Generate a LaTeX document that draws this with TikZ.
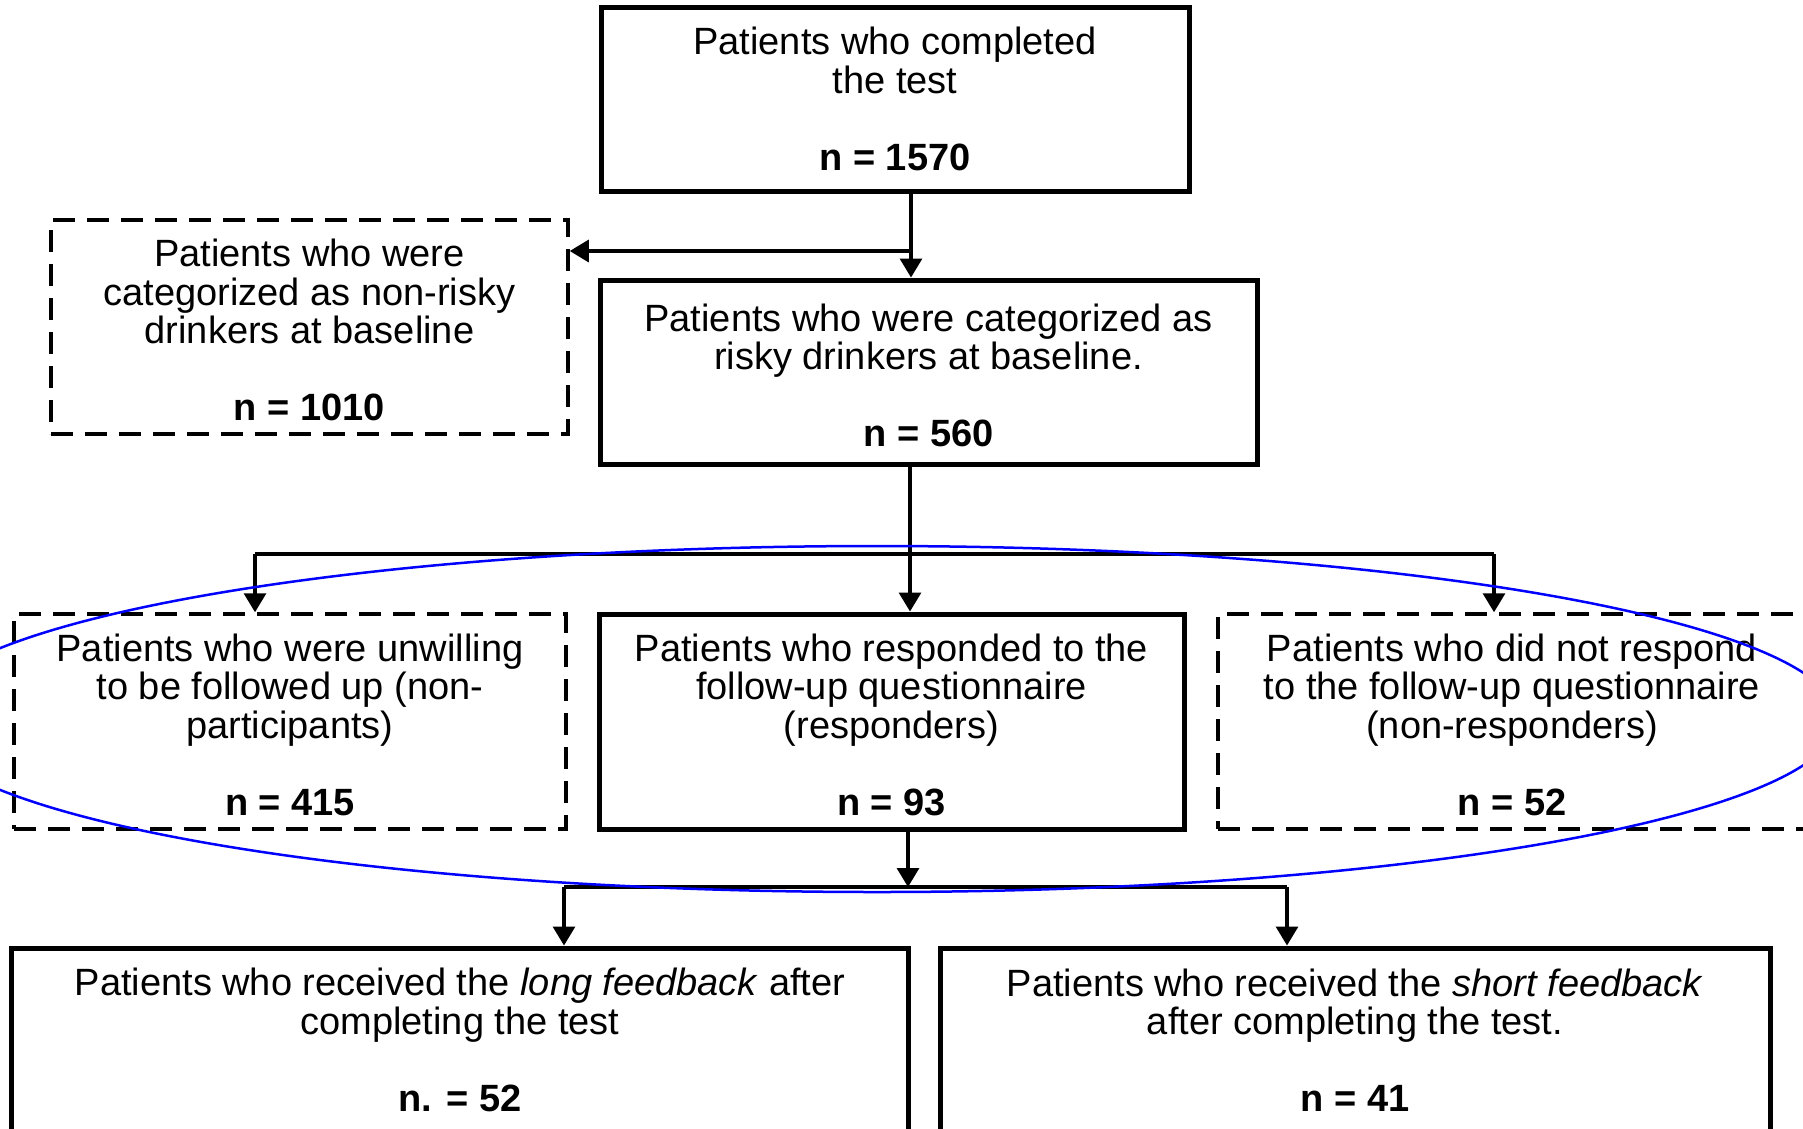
\documentclass[tikz,border=0pt]{standalone}
\usepackage{fontspec}
\setmainfont{Liberation Sans}
\usetikzlibrary{arrows.meta}
\newcommand{\topstrutx}{\rule{0pt}{34pt}}
\begin{document}
\begin{tikzpicture}[x=1pt,y=1pt,
  boxbase/.style={rectangle, inner sep=0pt, align=center,
    font=\fontsize{38pt}{38.5pt}\selectfont},
  solidbox/.style={boxbase, draw, line width=5pt},
  dashbox/.style={boxbase, draw, line width=3.5pt, dash pattern=on 22pt off 12pt},
  conn/.style={draw, line width=3.2pt},
  arr/.style={conn, -{Triangle[width=22pt,length=19pt]}}
]
\useasboundingbox (0,0) rectangle (1803,-1128);
\begin{scope}
\clip (0,0) rectangle (1803,-1128);
\fill[white] (0,0) rectangle (1803,-1128);

\node[solidbox, minimum width=588pt, minimum height=184pt] (b1) at (895,-99)
  {Patients who completed\\the test\\[38.5pt]\textbf{n = 1570}};
\node[dashbox, minimum width=517pt, minimum height=214pt] (b2) at (309.5,-327)
  {\topstrutx Patients who were\\categorized as non-risky\\drinkers at baseline\\[38.5pt]\textbf{n = 1010}};
\node[solidbox, minimum width=657pt, minimum height=184pt] (b3) at (928.5,-372)
  {\topstrutx Patients who were categorized as\\risky drinkers at baseline.\\[38.5pt]\textbf{n = 560}};

\node[dashbox, minimum width=552pt, minimum height=215pt] (b4) at (290,-721.5)
  {\topstrutx Patients who were unwilling\\to be followed up (non-\\participants)\\[38.5pt]\textbf{n = 415}};
\node[solidbox, minimum width=585pt, minimum height=215pt] (b5) at (891.5,-721.5)
  {\topstrutx Patients who responded to the\\follow-up questionnaire\\(responders)\\[38.5pt]\textbf{n = 93}};
\node[dashbox, minimum width=588pt, minimum height=215pt] (b6) at (1512,-721.5)
  {\topstrutx Patients who did not respond\\to the follow-up questionnaire\\(non-responders)\\[38.5pt]\textbf{n = 52}};

\node[solidbox, minimum width=897pt, minimum height=184pt] (b7) at (460,-1040)
  {Patients who received the \textit{long feedback} after\\completing the test\\[38.5pt]\textbf{n. = 52}};
\node[solidbox, minimum width=830pt, minimum height=184pt] (b8) at (1355,-1040)
  {Patients who received the \textit{short feedback}\\after completing the test.\\[38.5pt]\textbf{n = 41}};

% connectors
\coordinate (j1) at (911,-251);
\draw[arr] (j1 |- b1.south) -- (j1 |- b3.north);
\draw[arr] (j1) -- (j1 -| b2.east);

\coordinate (j2) at (910,-554);
\coordinate (j2l) at (255,-554);
\coordinate (j2r) at (1494,-554);
\draw[arr] (j2 |- b3.south) -- (j2 |- b5.north);
\draw[conn] (j2l) -- (j2r);
\draw[arr] (j2l) -- (j2l |- b4.north);
\draw[arr] (j2r) -- (j2r |- b6.north);

\coordinate (j3) at (908,-887);
\coordinate (j3l) at (564,-887);
\coordinate (j3r) at (1287,-887);
\draw[arr] (j3 |- b5.south) -- (j3);
\draw[conn] (j3l) -- (j3r);
\draw[arr] (j3l) -- (j3l |- b7.north);
\draw[arr] (j3r) -- (j3r |- b8.north);

% blue annotation ellipse
\draw[blue, line width=2.5pt] (877,-719) ellipse [x radius=961, y radius=173];
\end{scope}
\end{tikzpicture}
\end{document}
